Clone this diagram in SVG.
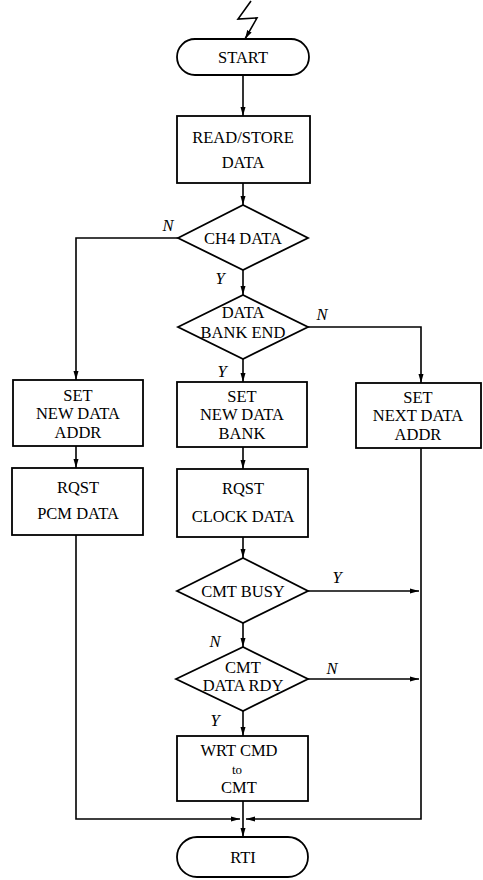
<svg xmlns="http://www.w3.org/2000/svg" width="483" height="880" viewBox="0 0 483 880">
<style>
.s{fill:#fff;stroke:#000;stroke-width:1.8}
.c{fill:none;stroke:#000;stroke-width:1.6}
text{font-family:"Liberation Serif","DejaVu Serif",serif;font-size:16.5px;fill:#000;text-anchor:middle}
.l{font-style:italic}
.sm{font-size:13px}
</style>
<defs>
<marker id="a" markerUnits="userSpaceOnUse" markerWidth="9" markerHeight="6" refX="9" refY="3" orient="auto">
<path d="M0,0.5 L9,3 L0,5.5 z" fill="#000"/>
</marker>
</defs>
<rect width="483" height="880" fill="#fff"/>
<g id="connectors">
<polyline class="c" points="251,1 238,19 257,18 245,39" marker-end="url(#a)"/>
<line class="c" x1="243" y1="75" x2="243" y2="116" marker-end="url(#a)"/>
<line class="c" x1="243" y1="183" x2="243" y2="205" marker-end="url(#a)"/>
<polyline class="c" points="178,238 76,238 76,380" marker-end="url(#a)"/>
<line class="c" x1="243" y1="270" x2="243" y2="295" marker-end="url(#a)"/>
<polyline class="c" points="308,327 421,327 421,383" marker-end="url(#a)"/>
<line class="c" x1="243" y1="359" x2="243" y2="382" marker-end="url(#a)"/>
<line class="c" x1="76" y1="446" x2="76" y2="468" marker-end="url(#a)"/>
<line class="c" x1="243" y1="447" x2="243" y2="469" marker-end="url(#a)"/>
<line class="c" x1="243" y1="537" x2="243" y2="558" marker-end="url(#a)"/>
<line class="c" x1="308" y1="591" x2="419" y2="591" marker-end="url(#a)"/>
<line class="c" x1="243" y1="623" x2="243" y2="647" marker-end="url(#a)"/>
<line class="c" x1="308" y1="679" x2="419" y2="679" marker-end="url(#a)"/>
<line class="c" x1="243" y1="711" x2="243" y2="736" marker-end="url(#a)"/>
<polyline class="c" points="421,448 421,819 246,819" marker-end="url(#a)"/>
<polyline class="c" points="76,535 76,819 240,819" marker-end="url(#a)"/>
<line class="c" x1="243" y1="801" x2="243" y2="837" marker-end="url(#a)"/>
<text class="l" x="168" y="231">N</text>
<text class="l" x="220" y="284">Y</text>
<text class="l" x="322" y="320">N</text>
<text class="l" x="222" y="377">Y</text>
<text class="l" x="337" y="583">Y</text>
<text class="l" x="215" y="647">N</text>
<text class="l" x="332" y="674">N</text>
<text class="l" x="215" y="726">Y</text>
</g>
<g id="start"><rect class="s" x="177" y="39" width="132" height="36" rx="18"/><text x="243" y="63">START</text></g>
<g id="read"><rect class="s" x="177" y="116" width="133" height="67"/><text x="243" y="143">READ/STORE</text><text x="243" y="168">DATA</text></g>
<g id="ch4"><polygon class="s" points="178,238 243,205 308,238 243,270"/><text x="243" y="244">CH4 DATA</text></g>
<g id="bankend"><polygon class="s" points="178,327 243,295 308,327 243,359"/><text x="243" y="318">DATA</text><text x="243" y="338">BANK END</text></g>
<g id="setaddr"><rect class="s" x="13" y="380" width="130" height="66"/><text x="78" y="401">SET</text><text x="78" y="419">NEW DATA</text><text x="78" y="438">ADDR</text></g>
<g id="setbank"><rect class="s" x="177" y="382" width="130" height="65"/><text x="242" y="402">SET</text><text x="242" y="420">NEW DATA</text><text x="242" y="439">BANK</text></g>
<g id="setnext"><rect class="s" x="356" y="383" width="125" height="65"/><text x="418" y="403">SET</text><text x="418" y="421">NEXT DATA</text><text x="418" y="440">ADDR</text></g>
<g id="pcm"><rect class="s" x="12" y="468" width="131" height="67"/><text x="78" y="493">RQST</text><text x="78" y="519">PCM DATA</text></g>
<g id="clock"><rect class="s" x="177" y="469" width="131" height="68"/><text x="243" y="494">RQST</text><text x="243" y="522">CLOCK DATA</text></g>
<g id="busy"><polygon class="s" points="177,591 243,558 308,591 243,623"/><text x="243" y="597">CMT BUSY</text></g>
<g id="rdy"><polygon class="s" points="176,679 243,647 308,679 243,711"/><text x="243" y="673">CMT</text><text x="243" y="691">DATA RDY</text></g>
<g id="wrt"><rect class="s" x="177" y="736" width="131" height="65"/><text x="239" y="756">WRT CMD</text><text class="sm" x="237" y="774">to</text><text x="239" y="793">CMT</text></g>
<g id="rti"><rect class="s" x="177" y="837" width="131" height="40" rx="20"/><text x="243" y="863">RTI</text></g>
</svg>
